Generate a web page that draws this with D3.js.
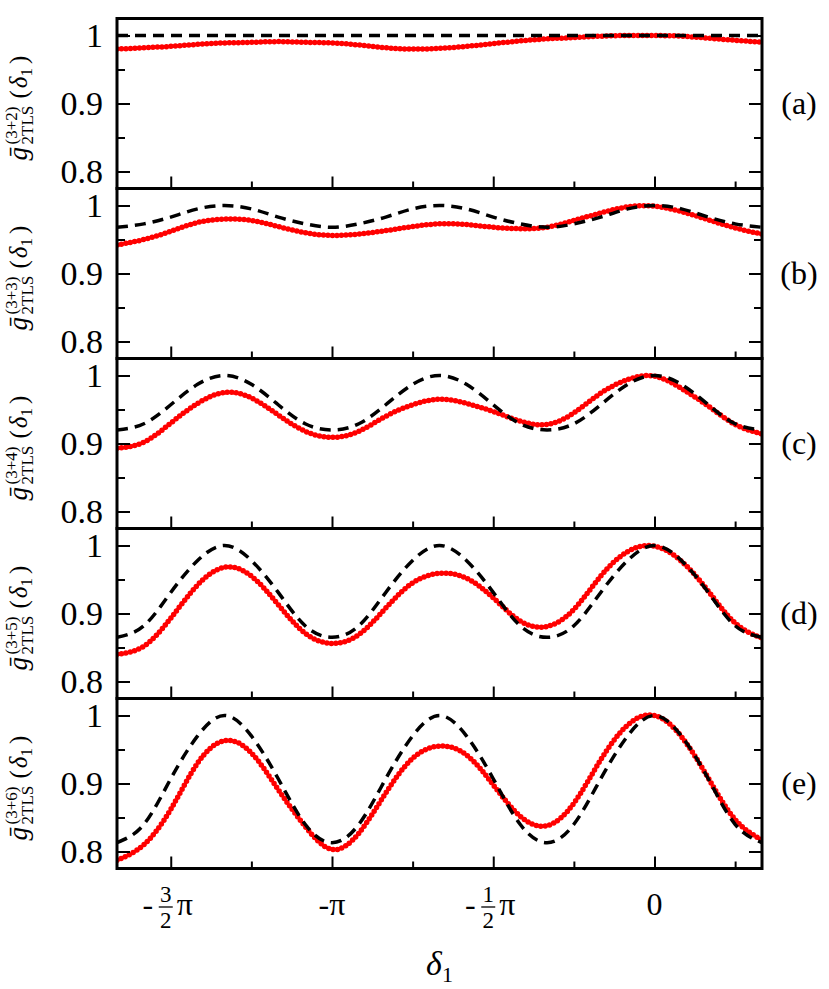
<!DOCTYPE html>
<html>
<head>
<meta charset="utf-8">
<script src="https://cdnjs.cloudflare.com/ajax/libs/d3/7.8.5/d3.min.js"></script>
<style>
    body { margin: 0; background: white; }
    svg text { font-family: "Liberation Serif", "Times New Roman", "DejaVu Serif", serif; }
</style>
</head>
<body>
<svg id="chart"></svg>
<script>
window.onload = function(){
    makeChart();
};

const WIDTH = 829;
const HEIGHT = 989;
const LEFT = 117, RIGHT = 762, TOP = 18.5, PANEL_H = 170;
const FONT = "'Liberation Serif', 'Times New Roman', 'DejaVu Serif', serif";

// delta_1 / pi sample points
const deltaOverPi = [-1.6667, -1.5833, -1.5, -1.4167, -1.3333, -1.25, -1.1667, -1.0833, -1,
    -0.9167, -0.8333, -0.75, -0.6667, -0.5833, -0.5, -0.4167, -0.3333, -0.25, -0.1667,
    -0.0833, 0, 0.0833, 0.1667, 0.25, 0.3333];

// red dotted (numerical) curves
const numA = [0.980, 0.982, 0.984, 0.987, 0.989, 0.990, 0.991, 0.990, 0.989, 0.986, 0.982, 0.980, 0.981,
    0.984, 0.988, 0.992, 0.995, 0.997, 0.999, 1.000, 1.000, 0.999, 0.996, 0.993, 0.990];
const numB = [0.942, 0.950, 0.962, 0.975, 0.980, 0.978, 0.969, 0.960, 0.956, 0.958, 0.963, 0.969, 0.973,
    0.972, 0.968, 0.966, 0.968, 0.978, 0.989, 0.998, 0.999, 0.991, 0.979, 0.967, 0.958];
const numC = [0.893, 0.902, 0.930, 0.959, 0.975, 0.967, 0.942, 0.918, 0.909, 0.918, 0.940, 0.957, 0.965,
    0.959, 0.947, 0.933, 0.928, 0.945, 0.974, 0.994, 0.999, 0.981, 0.955, 0.928, 0.914];
const numD = [0.840, 0.852, 0.893, 0.942, 0.968, 0.955, 0.913, 0.871, 0.856, 0.869, 0.908, 0.945, 0.959,
    0.952, 0.923, 0.889, 0.881, 0.906, 0.955, 0.991, 0.999, 0.977, 0.933, 0.886, 0.864];
const numE = [0.787, 0.810, 0.862, 0.930, 0.963, 0.945, 0.891, 0.837, 0.803, 0.827, 0.886, 0.937, 0.955,
    0.942, 0.898, 0.852, 0.838, 0.871, 0.935, 0.986, 1.000, 0.969, 0.908, 0.847, 0.817];

// black dashed curves
const anaA = [1, 1, 1, 1, 1, 1, 1, 1, 1, 1, 1, 1, 1, 1, 1, 1, 1, 1, 1, 1, 1, 1, 1, 1, 1];
const anaB = [0.968, 0.973, 0.983, 0.995, 1.000, 0.995, 0.983, 0.973, 0.968, 0.973, 0.983, 0.995, 1.000,
    0.995, 0.983, 0.973, 0.968, 0.973, 0.983, 0.995, 1.000, 0.995, 0.983, 0.973, 0.968];
const anaC = [0.920, 0.929, 0.957, 0.987, 1.000, 0.987, 0.957, 0.929, 0.920, 0.929, 0.957, 0.987, 1.000,
    0.987, 0.957, 0.929, 0.920, 0.929, 0.957, 0.987, 1.000, 0.987, 0.957, 0.929, 0.920];
const anaD = [0.865, 0.882, 0.931, 0.978, 1.000, 0.978, 0.931, 0.882, 0.865, 0.882, 0.931, 0.978, 1.000,
    0.978, 0.931, 0.882, 0.865, 0.882, 0.931, 0.978, 1.000, 0.978, 0.931, 0.882, 0.865];
const anaE = [0.813, 0.840, 0.907, 0.970, 1.000, 0.970, 0.907, 0.840, 0.813, 0.840, 0.907, 0.970, 1.000,
    0.970, 0.907, 0.840, 0.813, 0.840, 0.907, 0.970, 1.000, 0.970, 0.907, 0.840, 0.813];

const panelNames = ['(a)', '(b)', '(c)', '(d)', '(e)'];
const panelOrders = ['3+2', '3+3', '3+4', '3+5', '3+6'];

const yMajor = [0.8, 0.9, 1];
const yMinor = [0.85, 0.95];
const yTickLabels = ['0.8', '0.9', '1'];
const xMajorOverPi = [-1.5, -1, -0.5, 0];
const xMinorOverPi = [-1.25, -0.75, -0.25, 0.25];
const xTickLabels = ['-3/2π', '-π', '-1/2π', '0'];


function makeChart(){
    let svg = d3.select('#chart')
        .attr('width', WIDTH)
        .attr('height', HEIGHT)
        .attr('font-family', FONT);

    const x = d3.scaleLinear()
        .domain([-5 / 3 * Math.PI, 1 / 3 * Math.PI])
        .range([LEFT, RIGHT]);

    const nums = [numA, numB, numC, numD, numE];
    const anas = [anaA, anaB, anaC, anaD, anaE];

    nums.forEach((num, i) => {
        const top = TOP + i * PANEL_H;
        const y = d3.scaleLinear()
            .domain([0.775, 1.025])
            .range([top + PANEL_H, top]);

        svg.append('clipPath').attr('id', 'clip' + i)
            .append('rect')
            .attr('x', LEFT).attr('y', top)
            .attr('width', RIGHT - LEFT).attr('height', PANEL_H);

        const line = d3.line()
            .x((d, j) => x(deltaOverPi[j] * Math.PI))
            .y(d => y(d))
            .curve(d3.curveNatural);

        let plot = svg.append('g').attr('clip-path', 'url(#clip' + i + ')');

        plot.append('path')
            .datum(num)
            .attr('d', line)
            .attr('fill', 'none')
            .attr('stroke', '#ff0000')
            .attr('stroke-width', 5.5)
            .attr('stroke-linecap', 'round')
            .attr('stroke-dasharray', '0 4.5');

        plot.append('path')
            .datum(anas[i])
            .attr('d', line)
            .attr('fill', 'none')
            .attr('stroke', 'black')
            .attr('stroke-width', 3.5)
            .attr('stroke-dasharray', '11 7');

        // ticks pointing inward
        let axes = svg.append('g');
        axes.append('g')
            .attr('transform', `translate(${LEFT},0)`)
            .call(d3.axisLeft(y).tickValues(yMajor).tickSize(-13).tickPadding(14)
                .tickFormat((d, k) => yTickLabels[k]));
        axes.append('g')
            .attr('transform', `translate(${LEFT},0)`)
            .call(d3.axisLeft(y).tickValues(yMinor).tickSize(-8).tickFormat(''));
        axes.append('g')
            .attr('transform', `translate(${RIGHT},0)`)
            .call(d3.axisRight(y).tickValues(yMajor).tickSize(-13).tickFormat(''));
        axes.append('g')
            .attr('transform', `translate(${RIGHT},0)`)
            .call(d3.axisRight(y).tickValues(yMinor).tickSize(-8).tickFormat(''));
        axes.append('g')
            .attr('transform', `translate(0,${top + PANEL_H})`)
            .call(d3.axisBottom(x).tickValues(xMajorOverPi.map(v => v * Math.PI)).tickSize(-12).tickFormat(''));
        axes.append('g')
            .attr('transform', `translate(0,${top + PANEL_H})`)
            .call(d3.axisBottom(x).tickValues(xMinorOverPi.map(v => v * Math.PI)).tickSize(-7).tickFormat(''));

        axes.selectAll('.domain').remove();
        axes.selectAll('.tick line').attr('stroke', 'black').attr('stroke-width', 2);
        axes.selectAll('g').attr('font-family', FONT).attr('font-size', null);
        axes.selectAll('.tick text').attr('font-size', 34).attr('fill', 'black');

        svg.append('rect')
            .attr('x', LEFT).attr('y', top)
            .attr('width', RIGHT - LEFT).attr('height', PANEL_H)
            .attr('fill', 'none')
            .attr('stroke', 'black')
            .attr('stroke-width', 3);

        // panel tag on the right
        svg.append('text')
            .attr('x', 799).attr('y', top + PANEL_H / 2 + 10)
            .attr('text-anchor', 'middle')
            .attr('font-size', 32)
            .text(panelNames[i]);

        // rotated y label:  g-bar ^(3+n) _2TLS (delta_1)
        let lab = svg.append('g')
            .attr('transform', `translate(27,${top + PANEL_H / 2 + 57}) rotate(-90)`);
        lab.append('text').attr('x', 0).attr('y', 0)
            .attr('font-size', 27).attr('font-style', 'italic').text('ḡ');
        lab.append('text').attr('x', 16).attr('y', -10)
            .attr('font-size', 17).text('(' + panelOrders[i] + ')');
        lab.append('text').attr('x', 16).attr('y', 6)
            .attr('font-size', 17).text('2TLS');
        let t = lab.append('text').attr('x', 62).attr('y', 0).attr('font-size', 25);
        t.append('tspan').text('(');
        t.append('tspan').attr('dx', 2).attr('font-style', 'italic').text('δ');
        t.append('tspan').attr('dy', 5).attr('font-size', 17).text('1');
        t.append('tspan').attr('dy', -5).attr('dx', 4).text(')');
    });

    // x tick labels under the last panel
    const base = 915;
    xTickLabels.forEach((lbl, j) => {
        let g = svg.append('g')
            .attr('transform', `translate(${x(xMajorOverPi[j] * Math.PI)},${base})`);
        const m = lbl.match(/^(-?)(\d)\/(\d)(π)$/);
        if (m) {
            g.append('text').attr('x', -23).attr('text-anchor', 'middle').attr('font-size', 32).text(m[1]);
            g.append('text').attr('x', -5).attr('y', -13).attr('text-anchor', 'middle').attr('font-size', 23).text(m[2]);
            g.append('line').attr('x1', -12).attr('x2', 2).attr('y1', -8).attr('y2', -8)
                .attr('stroke', 'black').attr('stroke-width', 1.3);
            g.append('text').attr('x', -5).attr('y', 13).attr('text-anchor', 'middle').attr('font-size', 23).text(m[3]);
            g.append('text').attr('x', 6).attr('font-size', 32).text(m[4]);
        } else {
            g.append('text').attr('text-anchor', 'middle').attr('font-size', 32).text(lbl);
        }
    });

    let xt = svg.append('text')
        .attr('x', (LEFT + RIGHT) / 2).attr('y', 975)
        .attr('text-anchor', 'middle')
        .attr('font-size', 34);
    xt.append('tspan').attr('font-style', 'italic').text('δ');
    xt.append('tspan').attr('dy', 7).attr('font-size', 22).text('1');
}
</script>
</body>
</html>
